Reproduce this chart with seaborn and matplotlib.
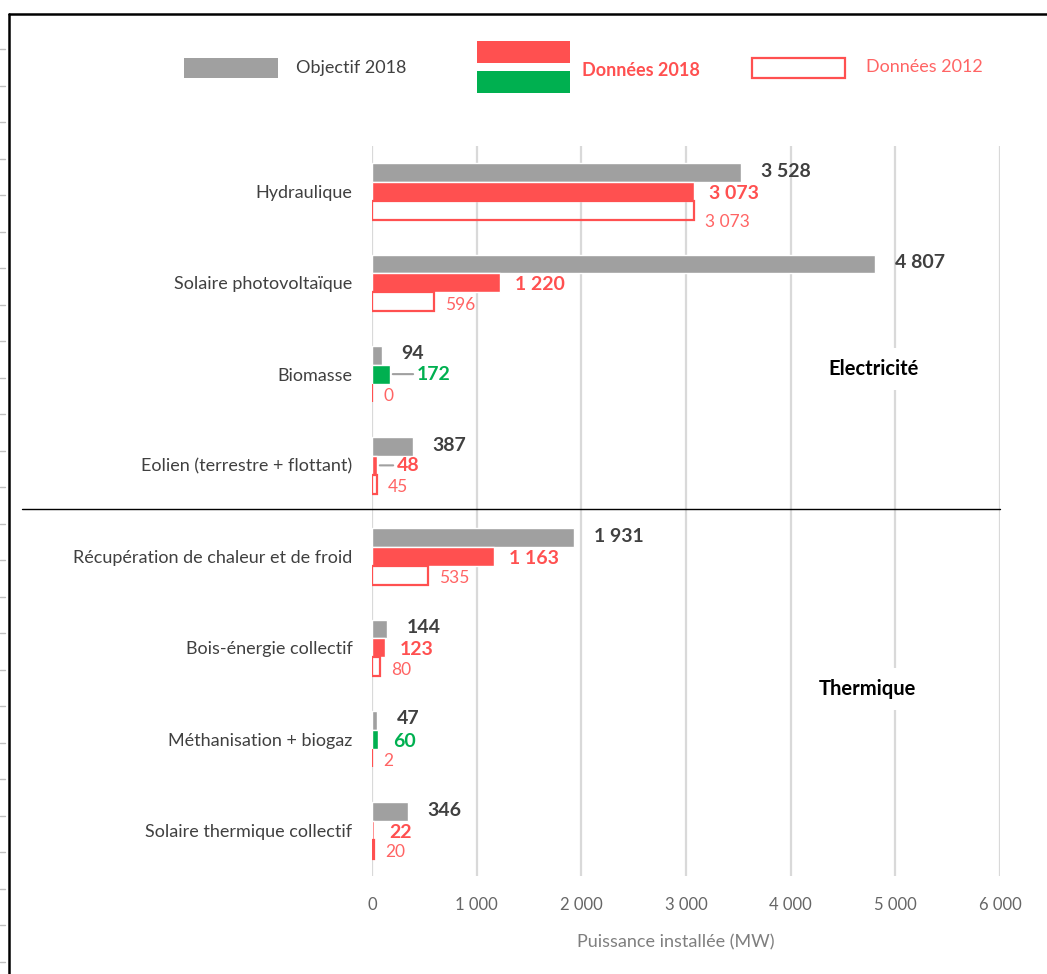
import pandas as pd
import seaborn as sns
import matplotlib.pyplot as plt
from matplotlib.patches import Rectangle
from matplotlib.lines import Line2D

# ------------ DATA ------------
categories = [
    "Hydraulique",
    "Solaire photovoltaïque",
    "Biomasse",
    "Eolien (terrestre + flottant)",
    "Récupération de chaleur et de froid",
    "Bois-énergie collectif",
    "Méthanisation + biogaz",
    "Solaire thermique collectif",
]
objectif_2018 = [3528, 4807, 94, 387, 1931, 144, 47, 346]
donnees_2018 = [3073, 1220, 172, 48, 1163, 123, 60, 22]
donnees_2012 = [3073, 596, 0, 45, 535, 80, 2, 20]
series = ["Objectif 2018", "Données 2018", "Données 2012"]
xticks = [0, 1000, 2000, 3000, 4000, 5000, 6000]
# ------------------------------

GRAY = "#A0A0A0"
RED = "#FF5050"
GREEN = "#00B050"
RED_LIGHT = "#FF6464"
DARK = "#404040"


def fmt(v):
    return f"{v:,}".replace(",", " ")


df = pd.DataFrame({
    "category": categories * 3,
    "series": [s for s in series for _ in categories],
    "value": objectif_2018 + donnees_2018 + donnees_2012,
})

sns.set_theme(style="white")
plt.rcParams["font.family"] = ["Lato", "DejaVu Sans"]

fig = plt.figure(figsize=(10.47, 9.74), dpi=100)
ax = fig.add_axes([372 / 1047, 1 - 876 / 974, 628 / 1047, 730 / 974])

sns.barplot(
    data=df, y="category", x="value", hue="series", orient="h",
    order=categories, hue_order=series, width=0.62, saturation=1,
    palette={"Objectif 2018": GRAY, "Données 2018": RED, "Données 2012": "white"},
    errorbar=None, legend=False, ax=ax,
)

obj_bars, d18_bars, d12_bars = ax.containers
for bar, v, o in zip(d18_bars, donnees_2018, objectif_2018):
    if v >= o:
        bar.set_facecolor(GREEN)
for bar in d12_bars:
    bar.set_facecolor("none")
    bar.set_edgecolor(RED)
    bar.set_linewidth(1.6)

# value labels
for bar, v in zip(obj_bars, objectif_2018):
    ax.annotate(fmt(v), (bar.get_width(), bar.get_y() + bar.get_height() / 2),
                xytext=(14, 1), textcoords="offset points", va="center",
                fontsize=14, fontweight="bold", color=DARK)

# labels moved away from tiny bars get a leader line, like in Excel
leader = {"Biomasse": 19, "Eolien (terrestre + flottant)": 14}
for bar, v, o, cat in zip(d18_bars, donnees_2018, objectif_2018, categories):
    col = GREEN if v >= o else RED
    off = leader.get(cat, 11)
    kw = {}
    dy = -1.5
    if cat in leader:
        dy = 0
        kw["arrowprops"] = dict(arrowstyle="-", color=GRAY, lw=1.5,
                                shrinkA=0, shrinkB=2)
    ax.annotate(fmt(v), (bar.get_width(), bar.get_y() + bar.get_height() / 2),
                xytext=(off, dy), textcoords="offset points", va="center",
                fontsize=14, fontweight="bold", color=col, **kw)

for bar, v, cat in zip(d12_bars, donnees_2012, categories):
    dy = -8 if cat == "Hydraulique" else -2
    ax.annotate(fmt(v), (bar.get_width(), bar.get_y() + bar.get_height() / 2),
                xytext=(8, dy), textcoords="offset points", va="center",
                fontsize=12.5, color=RED_LIGHT)

# axes styling
ax.set_xlim(0, 6000)
ax.set_ylim(7.5, -0.5)
ax.set_xticks(xticks)
ax.set_xticklabels([fmt(t) for t in xticks])
ax.set_axisbelow(True)
ax.xaxis.grid(True, color="#D9D9D9", lw=1.6)
ax.yaxis.grid(False)
for s in ax.spines.values():
    s.set_visible(False)
ax.tick_params(axis="x", length=0, pad=15, labelsize=12, labelcolor="#666666")
ax.tick_params(axis="y", length=0, pad=14, labelsize=13, labelcolor=DARK)
ax.set_ylabel("")
ax.set_xlabel("Puissance installée (MW)", fontsize=13, color="#7F7F7F", labelpad=14)
ax.xaxis.set_label_coords(0.483, -0.08)

# section labels
ax.text(4790, 1.94, "Electricité", fontsize=14.5, fontweight="bold", color="black",
        ha="center", va="center",
        bbox=dict(facecolor="white", edgecolor="none", pad=8))
ax.text(4730, 5.45, "Thermique", fontsize=14.5, fontweight="bold", color="black",
        ha="center", va="center",
        bbox=dict(facecolor="white", edgecolor="none", pad=8))

# separator between electricity and heat
fig.add_artist(Line2D([22 / 1047, 1000 / 1047], [1 - 509 / 974] * 2,
                      color="black", lw=1))

# legend drawn by hand
def fig_rect(x0, y0, x1, y1, **kw):
    fig.add_artist(Rectangle((x0 / 1047, 1 - y1 / 974), (x1 - x0) / 1047,
                             (y1 - y0) / 974, transform=fig.transFigure, **kw))

fig_rect(184, 58, 278, 78, facecolor=GRAY, edgecolor="none")
fig.text(296 / 1047, 1 - 68 / 974, "Objectif 2018", fontsize=13, color=DARK, va="center")
fig_rect(477, 41, 570, 63, facecolor=RED, edgecolor="none")
fig_rect(477, 71, 570, 93, facecolor=GREEN, edgecolor="none")
fig.text(582 / 1047, 1 - 71 / 974, "Données 2018", fontsize=13, fontweight="bold",
         color=RED, va="center")
fig_rect(752, 58, 845, 78, facecolor="none", edgecolor=RED, lw=1.6)
fig.text(866 / 1047, 1 - 67 / 974, "Données 2012", fontsize=13, color=RED_LIGHT,
         va="center")

# outer frame
fig.add_artist(Line2D([9 / 1047, 9 / 1047], [0, 1 - 14 / 974], color="black", lw=1.8))
fig.add_artist(Line2D([9 / 1047, 1], [1 - 14 / 974] * 2, color="black", lw=1.8))
for k in range(26):
    yy = 49 + k * 36.5
    if yy > 974:
        break
    fig.add_artist(Line2D([0, 5 / 1047], [1 - yy / 974] * 2, color="#C0C0C0", lw=1))

fig.savefig("out.png", dpi=100, facecolor="white")
